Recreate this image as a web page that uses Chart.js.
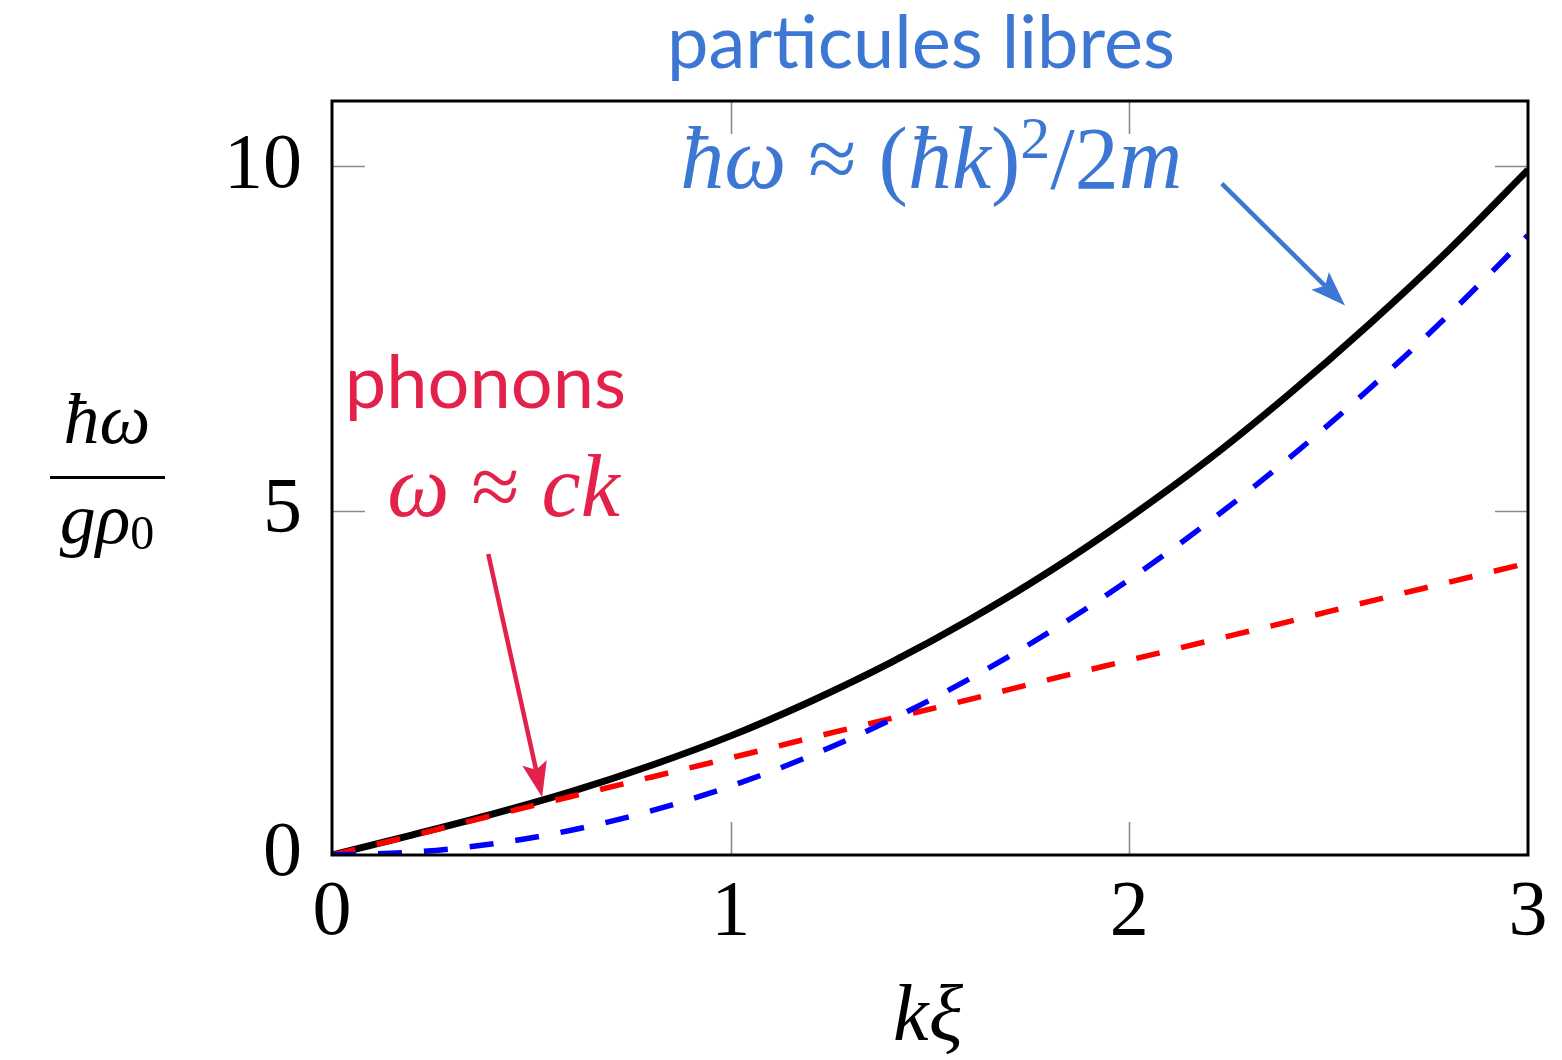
<!DOCTYPE html>
<html>
<head>
<meta charset="utf-8">
<title>Dispersion de Bogoliubov</title>
<script src="https://cdn.jsdelivr.net/npm/chart.js@4.4.1/dist/chart.umd.min.js"></script>
<style>
  html, body { margin: 0; padding: 0; background: #ffffff; }
  #wrap { width: 1562px; height: 1060px; }
</style>
</head>
<body>
<div id="wrap"><canvas id="c" width="1562" height="1060"></canvas></div>
<script>
// k·xi sample points
const kxi = [0, 0.2, 0.4, 0.6, 0.8, 1.0, 1.2, 1.4, 1.6, 1.8, 2.0, 2.2, 2.4, 2.6, 2.8, 3.0];
// full Bogoliubov spectrum  ħω / gρ0
const bogoliubov = [0, 0.29, 0.59, 0.92, 1.30, 1.73, 2.23, 2.79, 3.42, 4.12, 4.90, 5.75, 6.69, 7.70, 8.78, 9.95];
// free-particle limit (ħk)²/2m
const freeParticle = [0, 0.04, 0.16, 0.36, 0.64, 1.00, 1.44, 1.96, 2.56, 3.24, 4.00, 4.84, 5.76, 6.76, 7.84, 9.00];
// phonon limit  ω ≈ ck
const phonon = [0, 0.28, 0.57, 0.85, 1.13, 1.41, 1.70, 1.98, 2.26, 2.55, 2.83, 3.11, 3.39, 3.68, 3.96, 4.24];

const xTicks = [0, 1, 2, 3];
const yTicks = [0, 5, 10];
const xRange = [0, 3];
const yRange = [0, 10.95];

const BLUE_TXT = '#3d77d4';
const RED_TXT = '#e2224b';
const SERIF = '"Liberation Serif", "DejaVu Serif", serif';
const SANS = 'Lato, "Open Sans", "Noto Sans", sans-serif';

// annotation anchors, in data units
const notes = {
  freeArrow:   { from: [2.232, 9.75], to: [2.541, 7.98], color: BLUE_TXT },
  phononArrow: { from: [0.392, 4.37], to: [0.527, 0.84], color: RED_TXT },
  freeFormula: { at: [1.503, 9.68] },
  phononWord:  { at: [0.385, 6.49] },
  phononFormula: { at: [0.43, 4.93] }
};

const pts = arr => kxi.map((v, i) => ({ x: v, y: arr[i] }));

function drawRuns(ctx, runs, cx, baseline, color) {
  let total = 0;
  runs.forEach(r => { ctx.font = r.font; r.w = ctx.measureText(r.t).width + (r.gap || 0); total += r.w; });
  let xx = cx - total / 2;
  ctx.fillStyle = color;
  ctx.textBaseline = 'alphabetic';
  ctx.textAlign = 'left';
  runs.forEach(r => {
    ctx.font = r.font;
    ctx.fillText(r.t, xx + (r.gap || 0) / 2, baseline - (r.dy || 0));
    xx += r.w;
  });
}

function drawArrow(ctx, x0, y0, x1, y1, color, lw, headLen, headW) {
  const ang = Math.atan2(y1 - y0, x1 - x0);
  const bx = x1 - headLen * Math.cos(ang), by = y1 - headLen * Math.sin(ang);
  ctx.strokeStyle = color; ctx.fillStyle = color; ctx.lineWidth = lw; ctx.lineCap = 'butt';
  ctx.beginPath(); ctx.moveTo(x0, y0); ctx.lineTo(bx + 2 * Math.cos(ang), by + 2 * Math.sin(ang)); ctx.stroke();
  const nx = -Math.sin(ang), ny = Math.cos(ang);
  const back = 5;
  ctx.beginPath();
  ctx.moveTo(x1, y1);
  ctx.lineTo(bx + nx * headW / 2 - back * Math.cos(ang), by + ny * headW / 2 - back * Math.sin(ang));
  ctx.lineTo(bx + 2 * Math.cos(ang), by + 2 * Math.sin(ang));
  ctx.lineTo(bx - nx * headW / 2 - back * Math.cos(ang), by - ny * headW / 2 - back * Math.sin(ang));
  ctx.closePath(); ctx.fill();
}

const TICK = 33;

const frame = {
  id: 'frame',
  beforeDatasetsDraw(chart) {
    const { ctx, chartArea: a, scales: { x, y } } = chart;
    ctx.save();
    ctx.strokeStyle = '#8a8a8a'; ctx.lineWidth = 1.6;
    ctx.beginPath();
    xTicks.forEach(v => {
      if (v <= xRange[0] || v >= xRange[1]) return;
      const px = Math.round(x.getPixelForValue(v)) + 0.5;
      ctx.moveTo(px, a.bottom); ctx.lineTo(px, a.bottom - TICK);
      ctx.moveTo(px, a.top); ctx.lineTo(px, a.top + TICK);
    });
    yTicks.forEach(v => {
      if (v <= yRange[0] || v >= yRange[1]) return;
      const py = Math.round(y.getPixelForValue(v)) + 0.5;
      ctx.moveTo(a.left, py); ctx.lineTo(a.left + TICK, py);
      ctx.moveTo(a.right, py); ctx.lineTo(a.right - TICK, py);
    });
    ctx.stroke();
    ctx.restore();
  },
  afterDatasetsDraw(chart) {
    const { ctx, chartArea: a, scales: { x, y } } = chart;
    ctx.save();
    // axis box
    ctx.strokeStyle = '#000'; ctx.lineWidth = 3;
    ctx.strokeRect(a.left, a.top, a.right - a.left, a.bottom - a.top);

    const P = p => [x.getPixelForValue(p[0]), y.getPixelForValue(p[1])];

    // title
    ctx.fillStyle = BLUE_TXT;
    ctx.font = `74px ${SANS}`;
    ctx.textAlign = 'center'; ctx.textBaseline = 'alphabetic';
    ctx.fillText('particules libres', (a.left + a.right) / 2 - 9, a.top - 33);

    // free-particle annotation
    const it = `italic 88px ${SERIF}`, up = `88px ${SERIF}`, sup = `60px ${SERIF}`;
    let [fx, fy] = P(notes.freeFormula.at);
    drawRuns(ctx, [
      { t: 'ħω', font: it }, { t: '≈', font: up, gap: 44 }, { t: '(', font: up },
      { t: 'ħk', font: it }, { t: ')', font: up }, { t: '2', font: sup, dy: 30 },
      { t: '/2', font: up }, { t: 'm', font: it }
    ], fx, fy, BLUE_TXT);

    // phonon annotation
    let [wx, wy] = P(notes.phononWord.at);
    ctx.fillStyle = RED_TXT; ctx.font = `74px ${SANS}`; ctx.textAlign = 'center';
    ctx.fillText('phonons', wx, wy);
    let [px, py] = P(notes.phononFormula.at);
    drawRuns(ctx, [
      { t: 'ω', font: it }, { t: '≈', font: up, gap: 44 }, { t: 'ck', font: it }
    ], px, py, RED_TXT);

    // arrows
    [notes.freeArrow, notes.phononArrow].forEach(n => {
      const [x0, y0] = P(n.from), [x1, y1] = P(n.to);
      drawArrow(ctx, x0, y0, x1, y1, n.color, 4.5, 30, 25);
    });

    // y-axis label  ħω / gρ0
    const lab = `italic 72px ${SERIF}`, sub = `48px ${SERIF}`;
    const cx = 107;
    ctx.fillStyle = '#000'; ctx.textAlign = 'center';
    ctx.font = lab; ctx.fillText('ħω', cx, 443);
    ctx.fillRect(50, 476, 115, 3);
    drawRuns(ctx, [{ t: 'gρ', font: lab }, { t: '0', font: sub, dy: -6 }], cx, 543, '#000');

    // x-axis label  kξ
    drawRuns(ctx, [{ t: 'kξ', font: `italic 80px ${SERIF}` }], (a.left + a.right) / 2 - 2, 1040, '#000');
    ctx.restore();
  }
};

new Chart(document.getElementById('c'), {
  type: 'line',
  data: {
    datasets: [
      { label: 'bogoliubov', data: pts(bogoliubov), borderColor: '#000000', borderWidth: 7, order: 3 },
      { label: 'libres', data: pts(freeParticle), borderColor: '#0000ff', borderWidth: 5.5, borderDash: [24, 22], order: 1 },
      { label: 'phonons', data: pts(phonon), borderColor: '#ff0000', borderWidth: 5.5, borderDash: [24, 22], order: 2 }
    ]
  },
  options: {
    responsive: false,
    animation: false,
    events: [],
    layout: { padding: { top: 101, right: 34, bottom: 0, left: 0 } },
    elements: {
      point: { radius: 0 },
      line: { cubicInterpolationMode: 'monotone', fill: false, borderCapStyle: 'butt' }
    },
    plugins: { legend: { display: false }, title: { display: false }, tooltip: { enabled: false } },
    scales: {
      x: {
        type: 'linear', min: xRange[0], max: xRange[1],
        afterBuildTicks: s => { s.ticks = xTicks.map(v => ({ value: v })); },
        afterFit: s => { s.height = 205; },
        grid: { display: false, drawTicks: false },
        border: { display: false },
        ticks: { color: '#000', font: { family: SERIF, size: 78 }, padding: 12, maxRotation: 0 }
      },
      y: {
        type: 'linear', min: yRange[0], max: yRange[1],
        afterBuildTicks: s => { s.ticks = yTicks.map(v => ({ value: v })); },
        afterFit: s => { s.width = 332; },
        grid: { display: false, drawTicks: false },
        border: { display: false },
        ticks: { color: '#000', font: { family: SERIF, size: 78 }, padding: 30 }
      }
    }
  },
  plugins: [frame]
});
</script>
</body>
</html>
